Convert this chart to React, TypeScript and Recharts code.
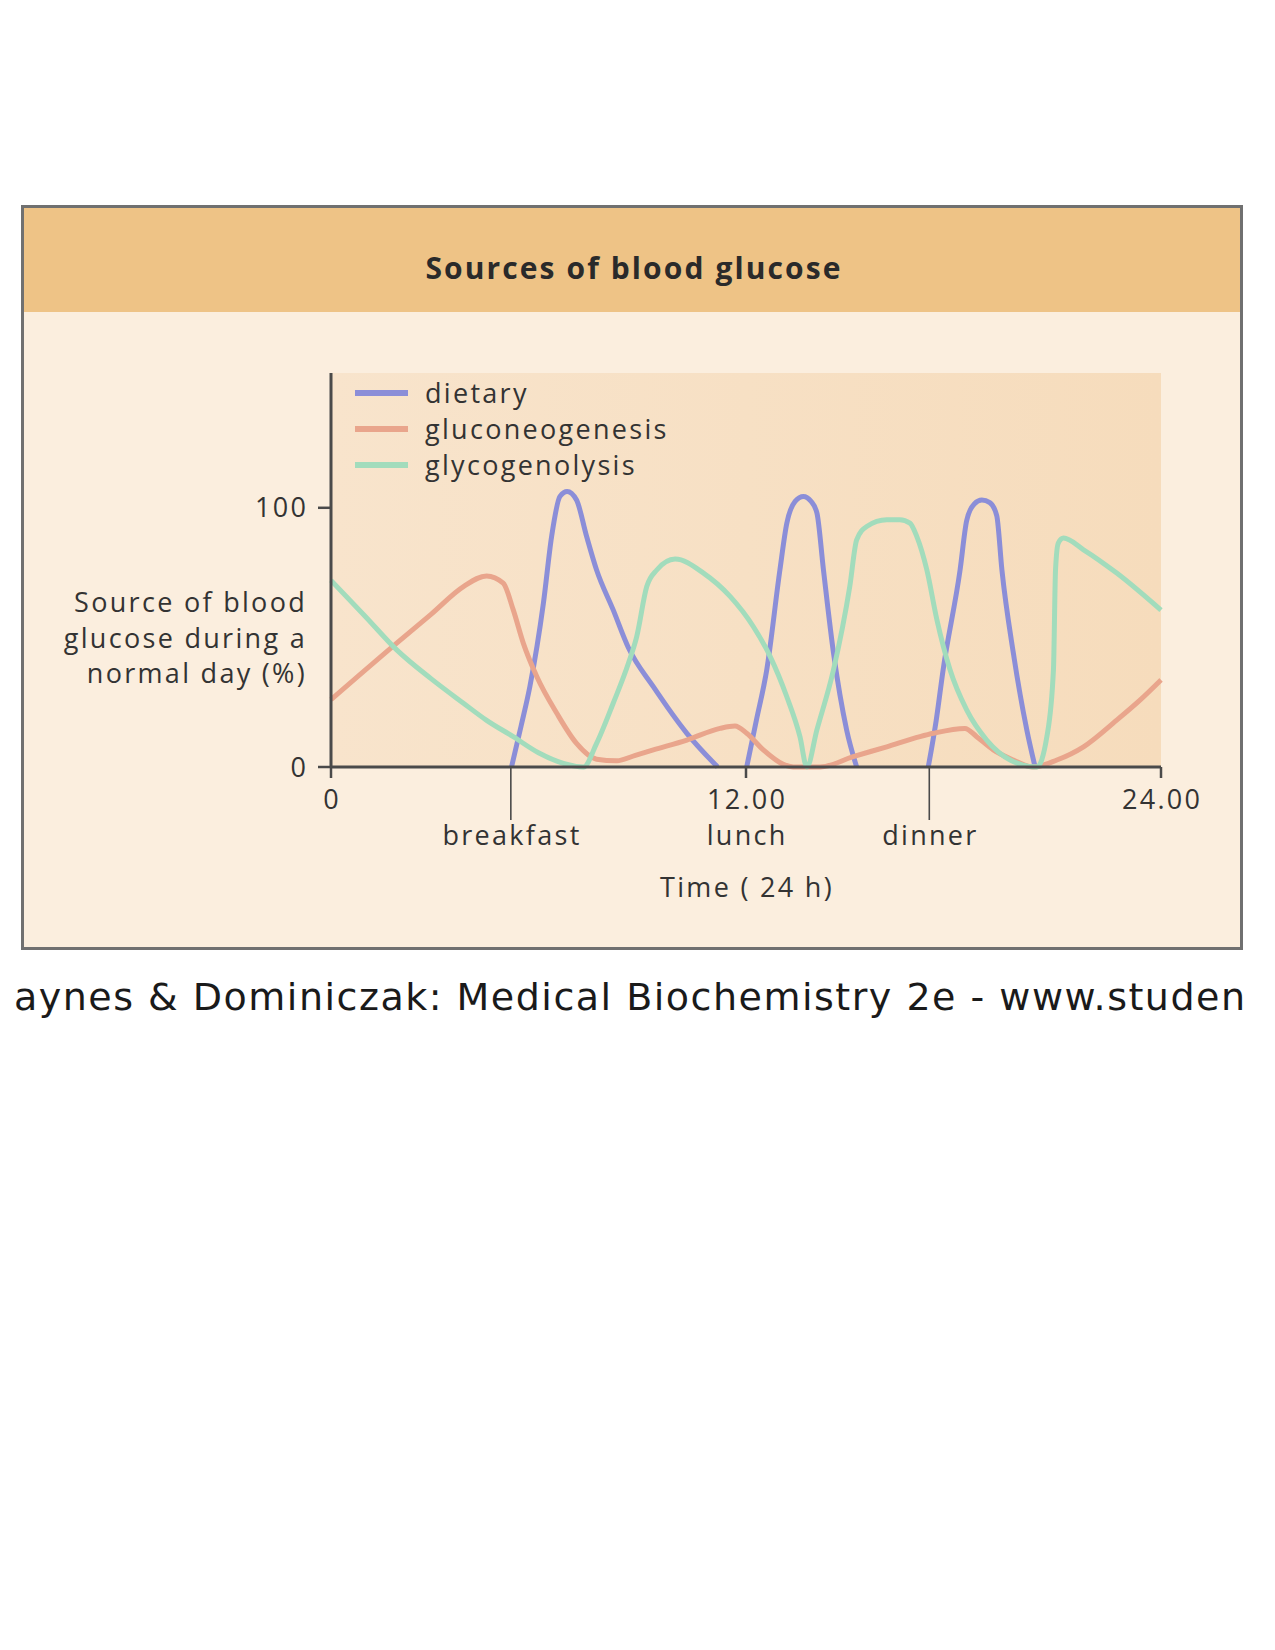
import React from 'react';
import { LineChart, Line, XAxis, YAxis, ReferenceArea, Legend } from 'recharts';

const seriesNames = ['dietary', 'gluconeogenesis', 'glycogenolysis'];
const seriesColors = ['#8b8ed8', '#e9a58c', '#a2dcbc'];

const dietaryHours = [5.22, 5.5, 5.75, 6.14, 6.38, 6.62, 6.83, 7.1, 7.39, 7.68, 8.16, 8.6, 9.32, 10.29, 11.18, 11.6, 12.02, 12.3, 12.6, 12.98, 13.18, 13.42, 13.66, 13.88, 14.05, 14.24, 14.53, 14.91, 15.2, 16.2, 17.27, 17.5, 17.7, 18.19, 18.38, 18.6, 18.82, 19.05, 19.25, 19.4, 19.73, 20.12, 20.36];
const dietaryValues = [0, 16, 31, 63, 89, 104.4, 106.3, 103, 89, 76, 60.6, 46, 31, 13, 0, null, 0, 18, 37.5, 76, 94, 102.5, 104.4, 102.5, 98, 76, 44, 14.3, 0, null, 0, 18, 37.5, 76, 95, 101.5, 103, 102, 97, 76, 44, 14.3, 0];

const gluconeogenesisHours = [0, 1.9, 2.9, 3.83, 4.5, 4.98, 5.27, 5.56, 5.95, 6.53, 7.1, 7.68, 8.26, 8.8, 9.32, 10.29, 11.25, 11.68, 12.02, 12.5, 13.08, 13.37, 14.14, 15.1, 16.07, 17.03, 17.42, 18.33, 18.67, 19.15, 19.73, 20.3, 20.99, 21.76, 22.72, 23.4, 24];
const gluconeogenesisValues = [26, 47.8, 59, 69.6, 73.7, 70.9, 60.6, 47.8, 34.9, 20.7, 9.1, 3, 2.4, 4.5, 6.6, 10.4, 14.9, 15.8, 13, 6.6, 1, 0, 0, 4, 7.8, 11.7, 13, 14.9, 11.7, 6.6, 2.7, 0, 2.7, 7.8, 18.1, 25.9, 33.6];

const glycogenolysisHours = [0, 1.0, 1.9, 2.9, 3.83, 4.5, 5.27, 6.0, 6.72, 7.3, 7.68, 8.16, 8.6, 8.84, 9.13, 9.42, 9.95, 10.77, 11.54, 12.21, 12.7, 13.18, 13.56, 13.76, 14.05, 14.53, 15.0, 15.2, 15.49, 16.07, 16.45, 16.74, 16.94, 17.23, 17.52, 17.9, 18.38, 18.96, 19.64, 20.41, 20.7, 20.89, 20.95, 21.03, 21.18, 21.76, 22.72, 24];
const glycogenolysisValues = [72, 58, 45.2, 34, 24.6, 18, 11.7, 5.5, 1.4, 0, 9.1, 24.6, 40, 50.3, 69.6, 76, 80.2, 74.8, 65.8, 54.2, 42.6, 27.1, 11.7, 0, 14.3, 37.5, 69.6, 87.6, 92.8, 95.4, 95.4, 94.1, 88.9, 76, 56.8, 37.5, 22, 10.4, 2.7, 0, 11.7, 37.5, 76, 86.4, 88.3, 83.8, 74.8, 60.5];

const yTicks = [0, 100];
const hourTicks = [0, 12, 24];
const hourTickLabels = ['0', '12.00', '24.00'];
const mealHours = [5.2, 12, 17.3];
const mealLabels = ['breakfast', 'lunch', 'dinner'];

const toPoints = (hours: number[], values: (number | null)[]) =>
  hours.map((t, i) => ({ t, v: values[i] }));

const seriesData = [
  toPoints(dietaryHours, dietaryValues),
  toPoints(gluconeogenesisHours, gluconeogenesisValues),
  toPoints(glycogenolysisHours, glycogenolysisValues),
];

const allXTicks = Array.from(new Set([...hourTicks, ...mealHours])).sort((a, b) => a - b);

const FONT = "'Open Sans', 'DejaVu Sans', sans-serif";
const TEXT = '#333333';
const AXIS = '#4a4a4a';
const FS = 27;
const LS = 2.3;

const XTick = (props: any) => {
  const { x, y, payload } = props;
  const v = payload.value;
  const hi = hourTicks.indexOf(v);
  const mi = mealHours.indexOf(v);
  const ts = { letterSpacing: LS };
  return (
    <g>
      {hi >= 0 && <line x1={x} x2={x} y1={y} y2={y + 11} stroke={AXIS} strokeWidth={2.5} />}
      {hi >= 0 && (
        <text x={x + LS / 2} y={y + 42} textAnchor="middle" fill={TEXT} fontSize={FS} fontFamily={FONT} style={ts}>
          {hourTickLabels[hi]}
        </text>
      )}
      {mi >= 0 && hi < 0 && <line x1={x} x2={x} y1={y} y2={y + 53} stroke={AXIS} strokeWidth={1.6} />}
      {mi >= 0 && (
        <text x={x + LS / 2} y={y + 78} textAnchor="middle" fill={TEXT} fontSize={FS} fontFamily={FONT} style={ts}>
          {mealLabels[mi]}
        </text>
      )}
    </g>
  );
};

const YTick = (props: any) => {
  const { x, y, payload } = props;
  return (
    <text x={x + LS} y={y} dy="0.355em" textAnchor="end" fill={TEXT} fontSize={FS} fontFamily={FONT} style={{ letterSpacing: LS }}>
      {payload.value}
    </text>
  );
};

const LegendContent = (props: any) => {
  const { payload } = props;
  return (
    <div>
      {(payload || []).map((p: any, i: number) => (
        <div key={i} style={{ display: 'flex', alignItems: 'center', height: 36 }}>
          <span style={{ display: 'inline-block', width: 53, height: 6, background: p.color, marginRight: 17 }} />
          <span style={{ fontSize: FS, color: TEXT, lineHeight: '36px', fontFamily: FONT, letterSpacing: LS }}>{p.value}</span>
        </div>
      ))}
    </div>
  );
};

export default function App() {
  return (
    <div style={{ position: 'absolute', left: 0, top: 0, width: 1275, height: 1650, background: '#ffffff', fontFamily: FONT, overflow: 'hidden' }}>
      <div style={{ position: 'absolute', left: 21, top: 205, width: 1222, height: 745, boxSizing: 'border-box', border: '3px solid #707070', background: '#fbeede' }} />
      <div style={{ position: 'absolute', left: 24, top: 208, width: 1216, height: 104, background: '#eec386' }} />
      <div style={{ position: 'absolute', left: 26, top: 248, width: 1216, lineHeight: '40px', textAlign: 'center', fontSize: 30, fontWeight: 700, letterSpacing: 2.1, color: '#2a2a2a' }}>
        Sources of blood glucose
      </div>

      <div style={{ position: 'absolute', left: 25, top: 312 }}>
        <LineChart width={1214} height={635} margin={{ top: 61, right: 78, bottom: 80, left: 0 }}>
          <defs>
            <linearGradient id="plotBg" x1="0" y1="0" x2="1" y2="0">
              <stop offset="0%" stopColor="#f8e4cc" />
              <stop offset="100%" stopColor="#f6dcbc" />
            </linearGradient>
          </defs>
          <ReferenceArea x1={0} x2={24} y1={0} y2={152} fill="url(#plotBg)" fillOpacity={1} stroke="none" ifOverflow="visible" />
          <XAxis
            type="number"
            dataKey="t"
            domain={[0, 24]}
            ticks={allXTicks}
            interval={0}
            height={100}
            tickSize={0}
            tickMargin={0}
            tickLine={false}
            axisLine={{ stroke: AXIS, strokeWidth: 3 }}
            tick={<XTick />}
            allowDuplicatedCategory={false}
          />
          <YAxis
            type="number"
            domain={[0, 152]}
            ticks={yTicks}
            width={306}
            tickSize={13}
            tickMargin={12}
            axisLine={{ stroke: AXIS, strokeWidth: 3 }}
            tickLine={{ stroke: AXIS, strokeWidth: 2.5 }}
            tick={<YTick />}
          />
          <Legend
            layout="vertical"
            align="center"
            verticalAlign="middle"
            wrapperStyle={{ left: 330, top: 63, width: 'auto' }}
            content={<LegendContent />}
          />
          {seriesNames.map((name, i) => (
            <Line
              key={name}
              name={name}
              data={seriesData[i]}
              dataKey="v"
              type="monotone"
              stroke={seriesColors[i]}
              strokeWidth={5}
              dot={false}
              activeDot={false}
              connectNulls={false}
              isAnimationActive={false}
            />
          ))}
        </LineChart>
      </div>

      <div style={{ position: 'absolute', left: 5, top: 584, width: 302, textAlign: 'right', fontSize: FS, lineHeight: '35.5px', letterSpacing: LS, color: TEXT }}>
        Source of blood<br />glucose during a<br />normal day (%)
      </div>
      <div style={{ position: 'absolute', left: 547, top: 869, width: 400, textAlign: 'center', fontSize: FS, lineHeight: '36px', letterSpacing: LS, color: TEXT }}>
        Time ( 24 h)
      </div>

      <div style={{ position: 'absolute', left: 14, top: 975, whiteSpace: 'nowrap', fontFamily: "'DejaVu Sans', sans-serif", fontSize: 38, lineHeight: '44px', letterSpacing: 1.5, color: '#1a1a1a' }}>
        aynes &amp; Dominiczak: Medical Biochemistry 2e - www.studen
      </div>
    </div>
  );
}
